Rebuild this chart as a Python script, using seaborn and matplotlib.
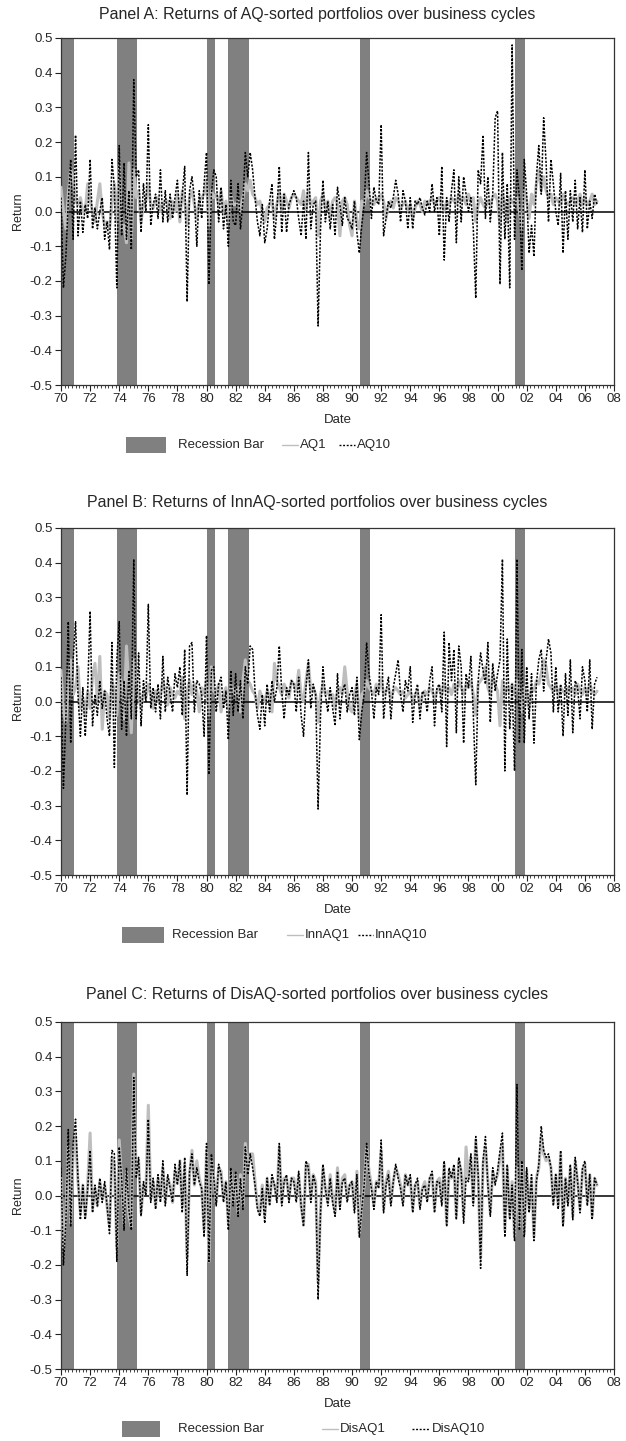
import numpy as np
import pandas as pd
import matplotlib
matplotlib.use("Agg")
import matplotlib.pyplot as plt
import seaborn as sns
from matplotlib.patches import Rectangle
from matplotlib.lines import Line2D

# ---------------- data (returns in percent, 6 observations per year, 1970-2006) ----------------
START_YEAR = 1970
OBS_PER_YEAR = 6

REC_START = [1969.92, 1973.87, 1980.00, 1981.50, 1990.55, 2001.20]
REC_END = [1970.92, 1975.25, 1980.55, 1982.90, 1991.20, 2001.90]

AQ1 = [
    7, 0, -5, 5, 12, 10,     3, 2, 4, 0, 0, 8,      3, 0, -3, 3, 8, 0,      -4, -3, -5, 2, 8, -3,
    13, -5, -4, -9, 14, -8,  12, 4, 6, -3, 2, 3,    8, 2, 1, 3, 4, 0,       2, 3, 3, -2, 3, 0,
    5, -3, 6, 3, -4, 4,      6, 2, -2, 3, 4, 5,     9, -4, 6, 4, 5, 2,      6, 0, 3, -3, 5, 2,
    2, 3, 0, 4, 8, 6,        9, 5, 4, 2, 3, 0,      -3, 1, 2, 3, -2, 2,     6, 0, 5, 3, 1, 4,
    5, 4, 3, 2, 6, 0,        6, 2, 3, 4, -7, 3,     5, 1, 3, -2, 3, 4,      2, -7, 3, 4, 2, -4,
    -7, 3, -3, -5, 3, 2,     6, 4, 3, 2, 4, 3,      5, 3, -2, 2, 3, 1,      4, 3, 1, 2, 3, 0,
    2, -2, 1, 3, 2, 0,       3, 2, 3, 4, 2, 3,      4, 2, 0, 3, 2, 4,       3, 2, 5, 3, 4, 2,
    5, 3, 4, -3, 2, 4,       2, 1, 3, 2, 4, 5,      3, -4, 5, 2, -3, 4,     3, 2, 4, 0, -5, 6,
    3, -2, 5, 2, 8, 12,      6, 10, 6, 4, 5, 2,     4, 3, 2, 5, 3, 2,       3, 4, 2, 3, 5, 2,
    4, 2, 3, 5, 2, 3,
]
AQ10 = [
    4, -22, -13, 3, 15, -8,   22, -7, 3, -6, 2, -2,   15, -5, 1, -5, 0, 4,    -8, -3, -11, 15, 7, -22,
    19, -7, 14, -8, 6, -11,   38, 10, 12, -6, 8, 0,   25, -4, 2, 5, -2, 12,   -3, 6, -3, 5, -2, 4,
    9, -2, 5, 13, -26, 6,     10, 4, -10, 6, -2, 8,   17, -21, 5, 12, 10, -3, 7, -5, 2, -10, 9, -3,
    -4, 8, -5, 3, 17, 10,     17, 12, 4, -3, -7, 2,   -9, -5, 3, 8, -8, 0,    13, -6, 5, -6, 2, 4,
    6, 4, -2, -7, 3, -8,      17, -5, 2, 3, -33, -5,  9, -3, 3, -5, 2, -7,    7, 2, -4, 4, -2, -3,
    -5, 3, -6, -12, -4, 2,    17, 8, -2, 7, 3, 2,     25, -7, -2, 3, 1, 4,    9, 5, -3, 6, 3, -5,
    4, -5, 3, 2, 4, 1,        -1, 3, 0, 8, 0, 4,      -7, 13, -14, 4, -3, 6,  12, -9, 10, -3, 10, 5,
    0, 4, -5, -25, 12, 8,     22, -2, 10, -3, 5, 27,  29, -21, 17, -8, 8, -22, 48, -8, 12, 4, -17, 15,
    5, -12, -4, -13, 10, 19,  5, 27, 14, -3, 15, 8,   0, -4, 11, -12, 6, -8,  6, -3, 9, -5, 4, -6,
    12, -5, 3, -2, 5, 2,
]

INNAQ1 = [
    9, -3, -6, 5, 12, 2,     4, 10, -2, 1, -4, 3,   -2, 7, 11, 0, 13, -8,   3, 2, -5, 6, 3, -4,
    8, 5, -5, 16, 4, -9,     12, 5, 2, -2, 3, 1,    5, 2, -2, 3, 0, 2,      6, 3, -1, 4, 2, 1,
    3, 2, 7, -5, 3, 6,       2, 5, 3, -3, 4, 2,     6, -4, 10, 3, 2, 5,     -3, 2, 4, -2, 5, 3,
    2, 4, -3, 6, 12, 6,      5, 3, 2, -2, 3, 1,     0, 3, 2, -3, 11, 6,     4, 2, 5, 3, 1, 6,
    5, 3, 9, 2, 0, 6,        11, 3, 4, 2, -6, 2,    5, 2, 3, 1, 2, -2,      3, 4, 2, 10, 3, -2,
    -3, 2, 5, -5, 2, 3,      6, 4, 3, 2, 5, 3,      7, 2, 3, 4, 1, 3,       4, 3, 2, 3, 1, 2,
    3, 0, 2, 3, -2, 2,       3, 2, 4, 3, 1, 3,      4, 2, 5, 3, 4, 2,       5, 3, 6, 4, 2, 5,
    4, 6, 2, -4, 5, 6,       7, 10, 4, 2, 8, 5,     3, -7, 6, 2, 4, 3,      5, 2, 6, 3, -3, 4,
    2, -2, 4, 3, 6, 5,       8, 12, 10, 5, 4, 3,    5, 2, 4, 3, 2, 4,       3, 4, 2, 5, 3, 2,
    4, 2, 5, 3, 2, 3,
]
INNAQ10 = [
    7, -25, -5, 23, -12, 12,  23, 2, -10, 4, -10, 3,  26, -7, 2, -4, 6, -2,   3, -5, -10, 17, -19, 12,
    23, -8, 6, -10, 9, -5,    41, -5, 14, -7, 6, 0,   28, -2, 4, -3, 5, -5,   13, -3, 7, 2, -3, 8,
    4, 10, -4, 15, -27, 16,   17, -3, 6, 5, 2, -10,   19, -21, 9, 10, -3, 5,   7, -2, 3, -11, 9, -4,
    8, -3, 6, -5, 10, 5,      16, 15, 3, -4, -8, 2,   -7, 5, -3, 6, 0, 4,     16, 3, -5, 4, 2, 6,
    5, -3, 7, -4, -10, 4,     12, -2, 5, 2, -31, -4,  10, 2, -3, 4, -2, -7,   8, -5, 3, 5, -3, 2,
    4, -4, 7, -11, -3, 2,     17, 8, 3, -5, 4, 2,     25, -5, 3, 7, -5, 4,    8, 12, 2, -3, 6, 3,
    10, -6, 2, 5, -5, 3,      2, -3, 6, 10, -7, 4,    5, -3, 20, -13, 17, 6,  15, -9, 16, 10, -12, 8,
    4, 13, -4, -24, 6, 14,    9, 5, 17, -6, 11, 3,    8, 12, 41, -20, 18, -8, 5, -20, 41, -12, 15, -12,
    10, -5, 8, -12, 5, 12,    15, 3, 12, 18, 14, -3,  10, -3, 5, -10, 8, -4,  12, -9, 6, 4, -5, 10,
    6, -3, 12, -8, 5, 7,
]

DISAQ1 = [
    5, -15, -6, 14, -8, 12,   17, 4, -5, 3, -6, 3,    18, -4, 2, -3, 4, -1,   3, -3, -9, 11, 9, -15,
    16, 4, -8, 7, -6, -9,     35, 6, 10, -5, 3, 1,    26, -1, 4, -3, 5, -1,   8, -2, 5, 3, -2, 7,
    4, 10, -3, 9, -18, 6,     13, 3, 10, 5, 2, -10,   13, -19, 10, 5, -2, 8,  7, -1, 4, -8, 7, -2,
    6, -5, 6, -3, 15, 7,      12, 12, 4, -3, -5, 3,   -6, 5, -2, 5, 3, -1,    14, -2, 5, 5, -1, 5,
    5, -1, 6, -3, -8, 9,      9, -1, 6, 4, -25, -4,   8, 2, -2, 6, -1, -5,    8, -3, 5, 6, -1, 3,
    4, -4, 7, -11, -3, 3,     14, 7, 3, -3, 4, 3,     13, -4, 4, 7, -2, 4,    8, 6, 3, -2, 6, 3,
    5, -4, 3, 4, -3, 2,       4, -1, 5, 6, -4, 4,     5, -2, 9, -8, 7, 5,     8, -6, 10, 7, -6, 14,
    5, 11, -2, 16, 5, -18,    9, 14, 4, -5, 7, 4,     6, 11, 15, -10, 8, -6,  4, -12, 8, -9, 9, -11,
    7, -4, 5, -12, 5, 8,      17, 12, 10, 11, 8, -2,  6, -3, 12, -8, 5, -2,   8, -6, 10, 4, -4, 7,
    9, -2, 6, -6, 5, 3,
]
DISAQ10 = [
    8, -20, -8, 19, -9, 15,   22, 5, -7, 3, -7, 2,    13, -5, 3, -3, 5, -2,   4, -3, -11, 13, 12, -19,
    14, 5, -10, 8, -4, -10,   34, 5, 11, -6, 4, 0,    22, -2, 5, -4, 6, -2,   10, -3, 6, 2, -2, 9,
    3, 10, -5, 11, -23, 7,    12, 3, 8, 4, 2, -12,    15, -19, 12, 5, -3, 9,  6, -2, 4, -10, 8, -3,
    7, -6, 5, -4, 14, 6,      12, 8, 3, -4, -6, 2,    -8, 5, -3, 6, 3, -2,    15, -3, 4, 6, -2, 5,
    4, -2, 7, -3, -9, 10,     8, -2, 6, 3, -30, -5,   9, 2, -3, 5, -2, -6,    7, -4, 4, 5, -2, 3,
    4, -5, 6, -12, -4, 3,     15, 6, 2, -4, 4, 2,     16, -5, 3, 6, -3, 4,    9, 5, 2, -3, 6, 3,
    6, -5, 3, 5, -4, 2,       3, -2, 5, 7, -5, 4,     4, -3, 10, -9, 8, 5,    9, -7, 11, 7, -8, 5,
    4, 12, -3, 17, 6, -21,    10, 17, 3, -6, 8, 3,    7, 13, 18, -12, 9, -7,  3, -13, 32, -10, 10, -12,
    8, -5, 6, -13, 4, 9,      20, 13, 11, 12, 8, -3,  6, -4, 13, -9, 5, -3,   9, -7, 11, 4, -5, 8,
    10, -3, 6, -7, 5, 3,
]

PANEL_TITLES = [
    "Panel A: Returns of AQ-sorted portfolios over business cycles",
    "Panel B: Returns of InnAQ-sorted portfolios over business cycles",
    "Panel C: Returns of DisAQ-sorted portfolios over business cycles",
]
SERIES_NAMES = [("AQ1", "AQ10"), ("InnAQ1", "InnAQ10"), ("DisAQ1", "DisAQ10")]
LOW_SERIES = [AQ1, INNAQ1, DISAQ1]
HIGH_SERIES = [AQ10, INNAQ10, DISAQ10]

# ---------------- styling / layout ----------------
sns.set_style("ticks")
plt.rcParams["font.family"] = ["Liberation Sans", "DejaVu Sans"]

W, H = 626, 1441
fig = plt.figure(figsize=(W / 100, H / 100), dpi=100)

AX_LEFT, AX_RIGHT = 61, 614
AX_TOPS = [38, 528, 1022]
AX_HEIGHT = 347
TITLE_Y = [15, 502, 995]
# legend layout in pixels: patch x0,x1 ; text x ; line x0,x1 ; text x ; dotted x0,x1 ; text x
LEG = [
    (126, 166, 178, 282, 298, 300, 339, 355, 357),
    (122, 164, 172, 287, 303, 305, 358, 373, 375),
    (122, 160, 178, 322, 338, 340, 412, 430, 432),
]
SMALL = 9.5
GRAY_LINE = "#bebebe"
BAR_GRAY = "#808080"

def fx(px):
    return px / W

def fy(py):
    return 1 - py / H

for i in range(3):
    top = AX_TOPS[i]
    ax = fig.add_axes([fx(AX_LEFT), fy(top + AX_HEIGHT), fx(AX_RIGHT - AX_LEFT), AX_HEIGHT / H])
    n = len(LOW_SERIES[i])
    dates = START_YEAR + np.arange(n) / OBS_PER_YEAR
    df = pd.DataFrame({
        "Date": dates,
        SERIES_NAMES[i][0]: np.array(LOW_SERIES[i]) / 100.0,
        SERIES_NAMES[i][1]: np.array(HIGH_SERIES[i]) / 100.0,
    })

    for s, e in zip(REC_START, REC_END):
        ax.axvspan(s, e, color=BAR_GRAY, lw=0, zorder=1)
    ax.axhline(0, color="black", lw=1.1, zorder=2)

    sns.lineplot(data=df, x="Date", y=SERIES_NAMES[i][0], ax=ax, color=GRAY_LINE,
                 lw=2.2, zorder=3, legend=False, estimator=None)
    sns.lineplot(data=df, x="Date", y=SERIES_NAMES[i][1], ax=ax, color="black",
                 lw=1.1, linestyle=(0, (1.4, 1.0)), zorder=4, legend=False, estimator=None)

    ax.set_xlim(1970, 2008)
    ax.set_ylim(-0.5, 0.5)
    major = np.arange(1970, 2009, 2)
    ax.set_xticks(major)
    ax.set_xticklabels([f"{int(y) % 100:02d}" for y in major])
    ax.set_xticks(np.arange(1970, 2008.001, 0.25), minor=True)
    yt = np.round(np.arange(-0.5, 0.51, 0.1), 1)
    ax.set_yticks(yt)
    ax.set_yticklabels([f"{abs(v):.1f}" if abs(v) < 1e-9 else f"{v:.1f}" for v in yt])

    ax.tick_params(axis="both", which="major", direction="out", length=4, width=0.8,
                   labelsize=SMALL, pad=2, color="#222222")
    ax.tick_params(axis="x", which="minor", direction="out", length=2.2, width=0.6,
                   color="#222222")
    for sp in ax.spines.values():
        sp.set_visible(True)
        sp.set_color("#333333")
        sp.set_linewidth(0.9)

    ax.set_xlabel("Date", fontsize=SMALL)
    ax.set_ylabel("Return", fontsize=SMALL - 0.5)
    ax.xaxis.set_label_coords(0.5, -0.085)
    ax.yaxis.set_label_coords(-0.067, 0.5)

    fig.text(0.506, fy(TITLE_Y[i]), PANEL_TITLES[i], ha="center", va="center", fontsize=11.5)

    # legend drawn below the axes
    ly = top + AX_HEIGHT + 60
    p0, p1, t0, l0, l1, t1, d0, d1, t2 = LEG[i]
    fig.add_artist(Rectangle((fx(p0), fy(ly + 8)), fx(p1 - p0), 16 / H,
                             transform=fig.transFigure, color=BAR_GRAY, lw=0))
    fig.text(fx(t0), fy(ly), "Recession Bar", ha="left", va="center", fontsize=SMALL)
    fig.add_artist(Line2D([fx(l0), fx(l1)], [fy(ly), fy(ly)], transform=fig.transFigure,
                          color=GRAY_LINE, lw=1.0))
    fig.text(fx(t1), fy(ly), SERIES_NAMES[i][0], ha="left", va="center", fontsize=SMALL)
    fig.add_artist(Line2D([fx(d0), fx(d1)], [fy(ly), fy(ly)], transform=fig.transFigure,
                          color="black", lw=1.0, linestyle=(0, (1.4, 1.2))))
    fig.text(fx(t2), fy(ly), SERIES_NAMES[i][1], ha="left", va="center", fontsize=SMALL)

fig.savefig("out.png", dpi=100)
